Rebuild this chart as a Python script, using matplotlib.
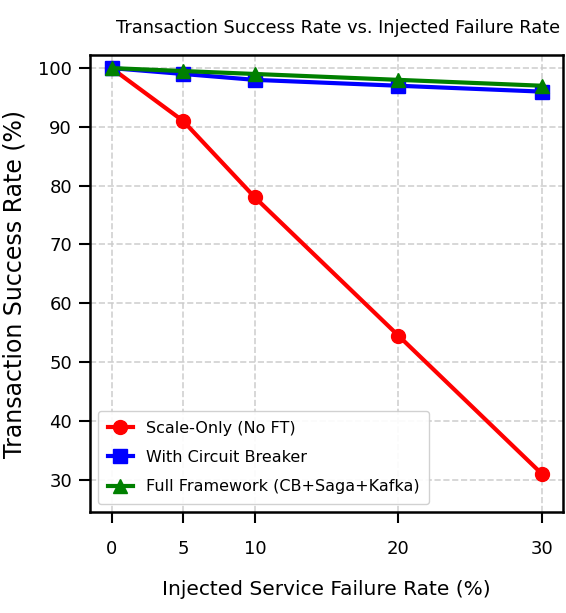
"""Transaction success rate vs injected failure rate, three fault-tolerance setups."""
import matplotlib
matplotlib.use("Agg")
import matplotlib.pyplot as plt

failure_rate = [0, 5, 10, 20, 30]
scale_only = [100, 91, 78, 54.5, 31]
circuit_breaker = [100, 99, 98, 97, 96]
full_framework = [100, 99.5, 99, 98, 97]

fig = plt.figure(figsize=(5.66, 6.13), dpi=100)
ax = fig.add_axes([0.159, 0.165, 0.836, 0.745])

ax.plot(failure_rate, scale_only, "o-", color="red", lw=3, ms=10,
        label="Scale-Only (No FT)")
ax.plot(failure_rate, circuit_breaker, "s-", color="blue", lw=3, ms=10,
        label="With Circuit Breaker")
ax.plot(failure_rate, full_framework, "^-", color="green", lw=3, ms=10,
        label="Full Framework (CB+Saga+Kafka)")

ax.set_xticks(failure_rate)
ax.set_ylim(24.5, 102.2)
ax.set_xlim(-1.5, 31.5)
ax.tick_params(labelsize=13, length=8, width=1.5)
ax.tick_params(axis="x", pad=12)
ax.tick_params(axis="y", pad=5)
for s in ax.spines.values():
    s.set_linewidth(1.8)
ax.grid(True, ls="--", color="#cccccc", lw=1.2, alpha=0.9)

ax.set_xlabel("Injected Service Failure Rate (%)", fontsize=14.5, labelpad=16)
ax.set_ylabel("Transaction Success Rate (%)", fontsize=17, labelpad=8)
ax.set_title("Transaction Success Rate vs. Injected Failure Rate",
             fontsize=12.8, pad=16, x=0.525)
ax.legend(loc="lower left", fontsize=11.5, framealpha=0.9,
          labelspacing=0.9, handlelength=1.6, borderpad=0.6)

fig.savefig("out.png", dpi=100)
